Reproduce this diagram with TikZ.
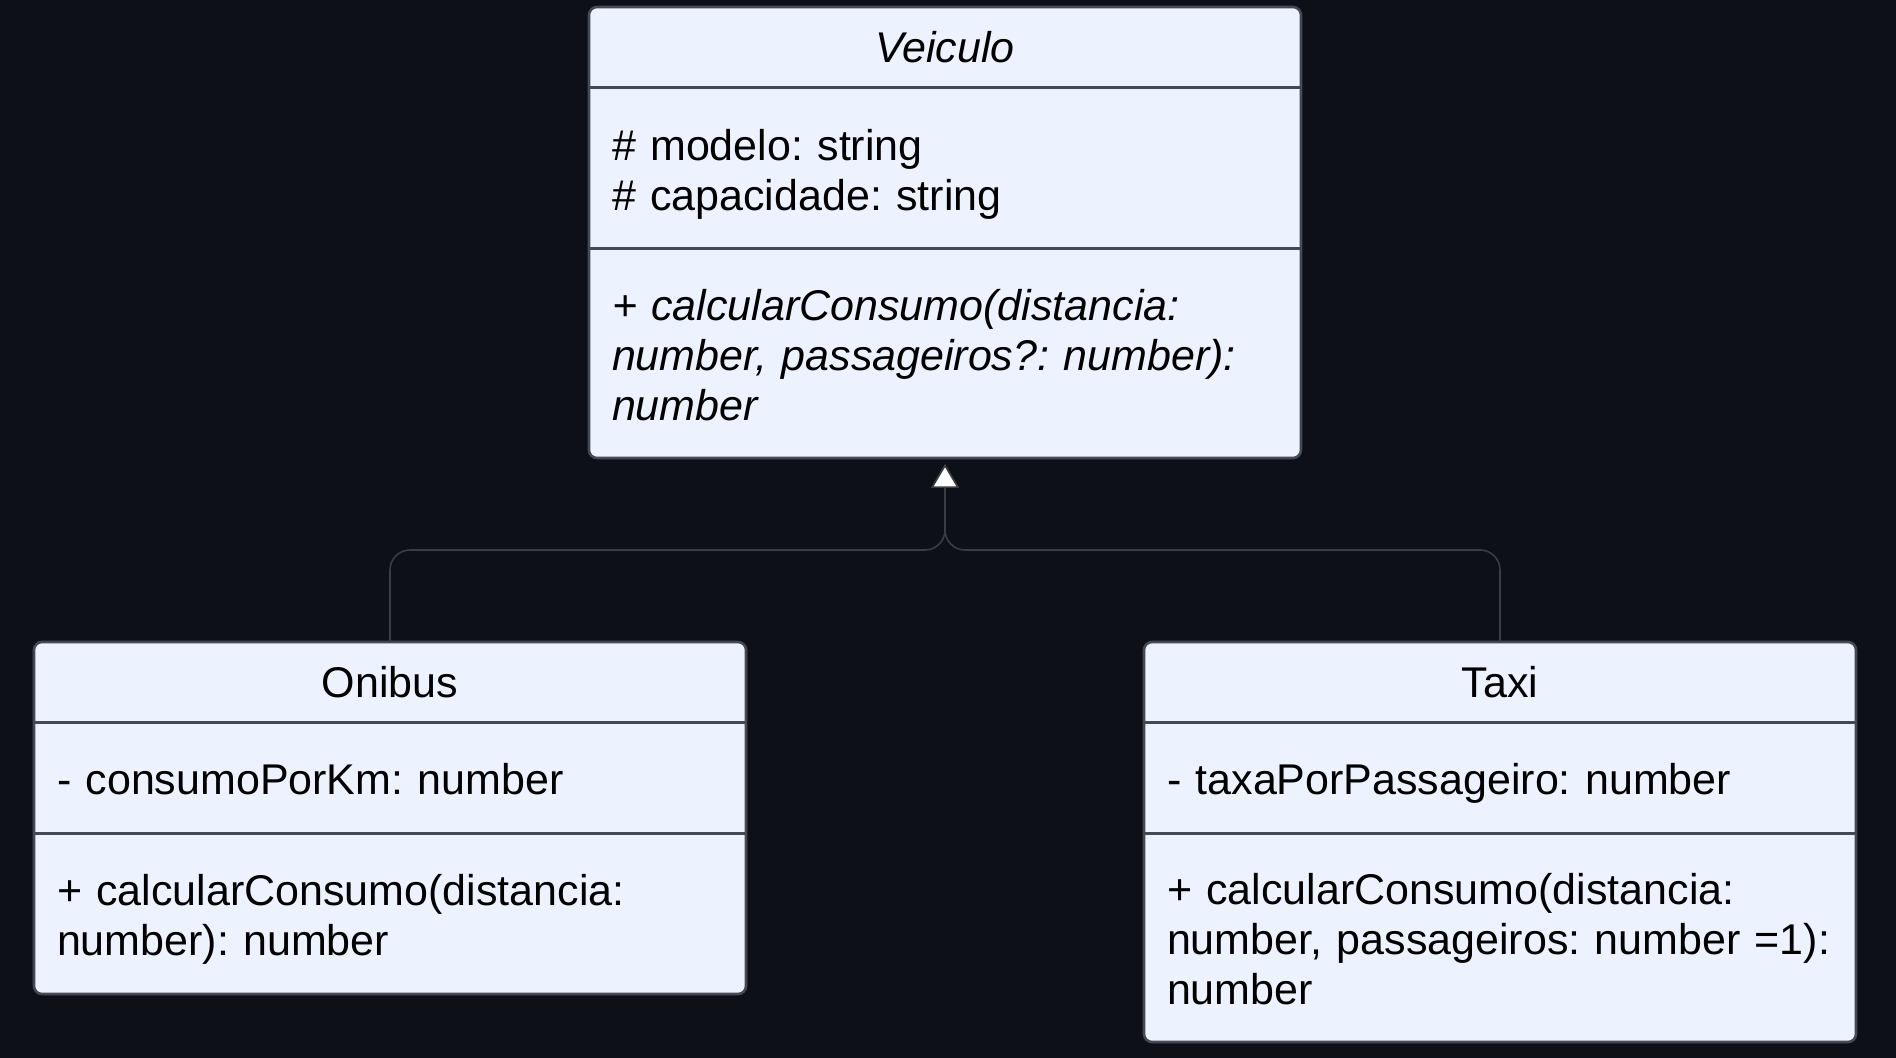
\documentclass[tikz,border=0pt]{standalone}
\usepackage{fontspec}
\setmainfont{Liberation Sans}
\usepackage{tikz}
\usetikzlibrary{positioning,arrows.meta,backgrounds}
\definecolor{bgdark}{HTML}{0D1117}
\definecolor{boxfill}{HTML}{ECF3FF}
\definecolor{boxline}{HTML}{434A54}
\definecolor{linkgray}{HTML}{3A3D42}
\frenchspacing
\tikzset{
	umltitle/.style={rectangle, outer sep=0pt, inner xsep=11.5pt, inner ysep=0pt, text width=333pt,
		minimum height=40.5pt, align=center, text=black, font=\fontsize{21.5}{24.8}\selectfont},
	umlpart/.style={umltitle, align=left, execute at begin node={\rule{0pt}{24.4pt}}, execute at end node=\strut},
	umlbox/.style={draw=boxline, line width=1.3pt, rounded corners=4pt},
	umlsep/.style={draw=boxline, line width=1.5pt},
	inherit/.style={draw=linkgray, line width=0.8pt, rounded corners=10pt, shorten >=3pt,
		-{Triangle[length=12pt, width=14pt, fill=white]}}
}

\begin{document}
\begin{tikzpicture}[x=0.5pt, y=-0.5pt]
			%%%%% START %%%%%
			\useasboundingbox (0,0) rectangle (1896,1058);
			
			% Veiculo
			\node[umltitle, anchor=north west] (veiculo) at (589,7) {\itshape Veiculo};
			\node[umlpart, minimum height=80.5pt, below=0pt of veiculo] (veiculoAttr) {\# modelo: string\\ \# capacidade: string};
			\node[umlpart, minimum height=104.5pt, below=0pt of veiculoAttr] (veiculoOps) {\itshape + calcularConsumo(distancia:\\ number, passageiros?: number):\\ number};
			
			% Onibus
			\node[umltitle, anchor=north west] (onibus) at (34,642) {Onibus};
			\node[umlpart, minimum height=55pt, below=0pt of onibus] (onibusAttr) {- consumoPorKm: number};
			\node[umlpart, minimum height=80.5pt, below=0pt of onibusAttr] (onibusOps) {+ calcularConsumo(distancia:\\ number): number};
			
			% Taxi
			\node[umltitle, anchor=north west] (taxi) at (1144,642) {Taxi};
			\node[umlpart, minimum height=55pt, below=0pt of taxi] (taxiAttr) {- taxaPorPassageiro: number};
			\node[umlpart, minimum height=104.5pt, below=0pt of taxiAttr] (taxiOps) {+ calcularConsumo(distancia:\\ \mbox{number, passageiros: number =1):}\\ number};
			
			\begin{scope}[on background layer]
				\fill[bgdark] (0,0) rectangle (1896,1058);
				\fill[boxfill, rounded corners=4pt] (veiculo.north west) rectangle (veiculoOps.south east);
				\fill[boxfill, rounded corners=4pt] (onibus.north west) rectangle (onibusOps.south east);
				\fill[boxfill, rounded corners=4pt] (taxi.north west) rectangle (taxiOps.south east);
			\end{scope}
			
			\draw[umlsep] (veiculoAttr.north west) -- (veiculoAttr.north east);
			\draw[umlsep] (veiculoOps.north west) -- (veiculoOps.north east);
			\draw[umlsep] (onibusAttr.north west) -- (onibusAttr.north east);
			\draw[umlsep] (onibusOps.north west) -- (onibusOps.north east);
			\draw[umlsep] (taxiAttr.north west) -- (taxiAttr.north east);
			\draw[umlsep] (taxiOps.north west) -- (taxiOps.north east);
			
			\draw[umlbox] (veiculo.north west) rectangle (veiculoOps.south east);
			\draw[umlbox] (onibus.north west) rectangle (onibusOps.south east);
			\draw[umlbox] (taxi.north west) rectangle (taxiOps.south east);
			
			% inheritance
			\coordinate (merge) at (945,550);
			\draw[inherit] (onibus.north) |- (merge) -- (veiculoOps.south);
			\draw[inherit] (taxi.north) |- (merge) -- (veiculoOps.south);
			
			%%%%% END %%%%%
\end{tikzpicture}
\end{document}
